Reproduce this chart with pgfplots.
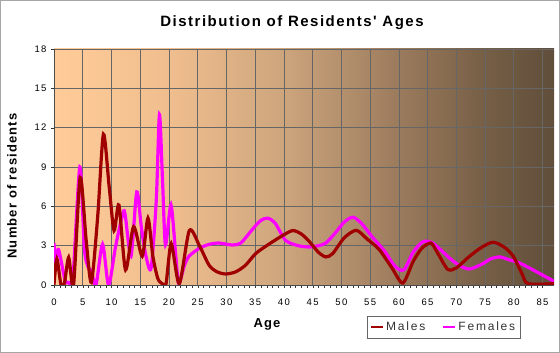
\documentclass[border=0pt]{standalone}
\usepackage{pgfplots}
\usepackage{pgfplotstable}
\pgfplotsset{compat=1.18}
\usepackage{fontspec}
\setmainfont{Liberation Sans}
\newfontfamily\titlefont[LetterSpace=10]{Liberation Sans}
\newfontfamily\labfont[LetterSpace=9]{Liberation Sans}
\newfontfamily\legfont[LetterSpace=15]{Liberation Sans}
\newfontfamily\tickfont[LetterSpace=14]{Liberation Sans}
\definecolor{male}{RGB}{160,0,0}
\definecolor{female}{RGB}{255,0,255}
\definecolor{bgA}{RGB}{255,204,153}
\definecolor{bgB}{RGB}{240,190,142}
\definecolor{bgC}{RGB}{205,165,125}
\definecolor{bgD}{RGB}{155,123,93}
\definecolor{bgE}{RGB}{118,95,70}
\definecolor{bgF}{RGB}{96,78,58}
\pgfdeclarehorizontalshading{bgshade}{100bp}{color(0bp)=(bgA); color(25bp)=(bgA); color(36.5bp)=(bgB); color(48bp)=(bgC); color(59.5bp)=(bgD); color(68bp)=(bgE); color(75bp)=(bgF); color(100bp)=(bgF)}

\pgfplotstableread{
age val
0 0
0.5 2.0
1.2 0.05
1.8 0.1
2.55 2.1
3.4 0.0
4.55 8.2
5.6 3.4
6.5 0.2
7.6 5.2
8.6 11.5
9.6 7.5
10.45 4.15
11.3 6.1
12.45 1.15
13.85 4.45
15.35 2.2
16.35 5.1
17.2 2.2
18.06 0.5
18.9 0.08
19.5 0.1
20.4 3.15
21.8 0.1
23.55 4.15
25.3 3.0
27.0 1.5
28.4 1.0
29.9 0.84
31.6 1.0
33.3 1.5
35.1 2.4
37.0 3.0
39.5 3.7
41.5 4.15
43 3.9
44.4 3.33
46 2.5
47.3 2.14
48.5 2.4
50.5 3.6
52.6 4.17
54.5 3.5
56.6 2.7
58.8 1.3
60.7 0.15
62.5 1.8
64 2.8
65.6 3.2
66.8 2.4
68.5 1.2
70 1.3
72.3 2.19
74.5 2.9
76.4 3.26
78.3 2.9
79.9 2.2
81.5 0.8
82.5 0.1
87 0.1
}\males

\pgfplotstableread{
age val
0 3.2
0.3 1.8
0.8 2.7
1.9 0.4
2.5 0.2
3.3 0.6
4.5 9.0
5.3 2.7
6.0 1.3
6.5 1.1
7.3 0.0
8.45 3.1
9.5 0.0
10.7 2.9
12.0 5.5
12.4 5.3
13.4 2.2
14.4 7.1
15.2 4.4
16.0 2.2
16.9 1.3
17.8 6.5
18.35 13.0
18.9 7.8
19.4 3.06
20.35 6.1
21.2 2.2
21.7 0.1
22.7 1.5
23.5 2.2
25.3 2.8
27.0 3.1
28.7 3.2
31.0 3.05
32.5 3.2
34.2 4.07
35.9 4.9
37.2 5.1
38.5 4.7
40.3 3.4
42.5 3.0
44.4 2.9
46 3.0
47.3 3.2
49 4.0
50.5 4.8
52.0 5.17
53.5 4.7
55.5 3.6
57.5 2.6
59 1.6
60.1 1.17
61 1.2
62.5 2.5
64.2 3.3
65.9 3.2
68.8 2.06
70.5 1.5
72.3 1.22
74.5 1.6
76 2.0
77.6 2.14
79 1.95
81.0 1.68
84 1.0
87 0.28
}\females

\begin{document}
\begin{tikzpicture}[x=1pt,y=1pt]
\path[use as bounding box] (0,0) rectangle (560,353);
\draw[black!35] (0.5,0.5) rectangle (559.5,352.5);
\node[font=\titlefont\bfseries\fontsize{15}{18}\selectfont] at (292,330) {Distribution of Residents' Ages};
\node[font=\labfont\bfseries\fontsize{13}{15}\selectfont, rotate=90] at (12,167) {Number of residents};
\node[font=\labfont\bfseries\fontsize{13}{15}\selectfont] at (267,29) {Age};
\begin{axis}[
  at={(54pt,68pt)}, anchor=south west,
  scale only axis, width=500pt, height=236pt,
  xmin=0, xmax=87, ymin=0, ymax=18,
  xtick={0,5,...,85}, ytick={0,3,...,18},
  minor x tick num=4,
  axis lines*=left,
  axis line style={black!70},
  tick align=outside,
  major tick length=3pt, minor tick length=3pt,
  tick style={black!80},
  xmajorgrids, ymajorgrids,
  major grid style={black!60, line width=0.6pt},
  axis background/.style={shading=bgshade},
  ticklabel style={font=\tickfont\fontsize{9.5}{11}\selectfont},
  xticklabel style={yshift=-7pt},
  yticklabel style={xshift=-1pt},
  /pgf/number format/assume math mode=true,
  legend style={at={(0.626,-0.131)}, anchor=north west, draw=black!60,
    font=\legfont\fontsize{12}{14}\selectfont, text=black!80,
    legend columns=2, inner xsep=3pt, inner ysep=4pt,
    /tikz/every even column/.append style={column sep=15pt}},
  legend image code/.code={\draw[#1, line width=2pt] (0pt,0pt) -- (12pt,0pt);},
]
\addlegendimage{male}
\addlegendentry{Males}
\addlegendimage{female}
\addlegendentry{Females}
\addplot[female, line width=3.2pt, smooth, tension=0.45, forget plot] table[x=age,y=val] {\females};
\addplot[male, line width=3.2pt, smooth, tension=0.45, forget plot] table[x=age,y=val] {\males};
\end{axis}
\end{tikzpicture}
\end{document}
